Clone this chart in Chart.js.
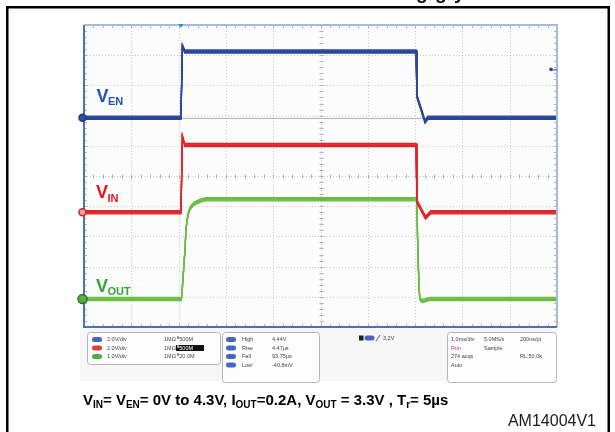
<!DOCTYPE html>
<html><head><meta charset="utf-8">
<script src="https://cdn.jsdelivr.net/npm/chart.js@4/dist/chart.umd.min.js"></script>
<style>html,body{margin:0;padding:0;background:#fff;overflow:hidden}canvas{display:block}</style>
</head><body>
<canvas id="c" width="615" height="432"></canvas>
<script>
// ---------------- DATA (time in ms, values in volts) ----------------
const venTime   = [-2.05, 0, 0.03, 0.08, 4.97, 4.99, 5.16, 5.22, 7.95];
const venVolts  = [0, 0, 4.75, 4.38, 4.38, 1.40, -0.26, 0, 0];
const vinTime   = [-2.05, 0, 0.03, 0.08, 4.97, 4.99, 5.17, 5.28, 7.95];
const vinVolts  = [0, 0, 5.0, 4.46, 4.46, 0.70, -0.36, 0, 0];
const voutTime  = [-2.05, 0.01, 0.04, 0.08, 0.11, 0.16, 0.25, 0.35, 0.54, 4.98, 5.01, 5.05, 5.11, 5.26, 7.95];
const voutVolts = [0, 0, 0.63, 1.52, 2.35, 2.85, 3.11, 3.21, 3.30, 3.30, 1.5, 0.05, -0.07, 0, 0];

const channelSubs   = ['EN', 'IN', 'OUT'];
const voltsPerDiv   = [2.0, 2.0, 1.0];
const scaleLabels   = ['2.0V/div', '2.0V/div', '1.0V/div'];
const bandwidths    = ['500M', '500M', '20.0M'];
const measLabels    = ['High', 'Rise', 'Fall', "Low'"];
const measValues    = ['4.44V', '4.47\u00b5s', '93.75\u00b5s', '-40.8mV'];
const triggerLevel  = 3.2;
const triggerText   = '3.2V';
const acqRows       = [['1.0ms/div', '5.0MS/s', '200ns/pt'], ['Run', 'Sample', ''], ['274 acqs', '', 'RL:50.0k'], ['Auto', '', '']];
const captionParts  = [['V',0],['IN',1],['= V',0],['EN',1],['= 0V to 4.3V, I',0],['OUT',1],['=0.2A, V',0],['OUT',1],[' = 3.3V , T',0],['r',1],['= 5\u00b5s',0]];
const figureId      = 'AM14004V1';

// ---------------- channel display settings ----------------
const groundDiv = [6.93, 3.80, 0.93];        // ground level, divisions from bottom
const traceColors = ['#2b4699', '#e0262b', '#6cbd45'];
const labelColors = ['#2452b8', '#e5141e', '#36a532'];
const pillColors  = ['#4466c4', '#e03c3c', '#4fab4a'];
const bandOffsets = [-1.6, -0.8, 0.8, 1.6];   // vertical thickness of the noisy trace band
const FONT = "'Liberation Sans', Arial, sans-serif";

function pts(t, v) { return t.map((x, i) => ({x: x, y: v[i]})); }
function axisFor(i) {
  return {type: 'linear', display: false, min: -groundDiv[i] * voltsPerDiv[i], max: (10 - groundDiv[i]) * voltsPerDiv[i]};
}

const scopePlugin = {
  id: 'scope',
  beforeDraw(chart) {
    const c = chart.ctx, a = chart.chartArea;
    c.save();
    c.fillStyle = '#ffffff'; c.fillRect(0, 0, 615, 432);
    c.fillStyle = '#f6f6f6'; c.fillRect(a.left - 4, a.bottom + 1, a.right - a.left + 4, 53);
    c.fillStyle = '#fcfcfc'; c.fillRect(a.left, a.top, a.right - a.left, a.bottom - a.top);
    c.strokeStyle = '#000'; c.lineWidth = 2.5;
    c.strokeRect(7.25, 7.25, 601.5, 440);
    c.fillStyle = '#000'; c.font = 'bold 19px ' + FONT; c.textBaseline = 'alphabetic';
    c.fillText('g', 416, -1); c.fillText('g', 435, -1); c.fillText('y', 454, -1);
    c.restore();
  },
  beforeDatasetsDraw(chart) {
    const c = chart.ctx, a = chart.chartArea, xs = chart.scales.x, yd = chart.scales.yDiv;
    c.save();
    c.strokeStyle = 'rgba(140,140,140,0.45)'; c.lineWidth = 1; c.setLineDash([1, 2]);
    for (let k = 1; k < 10; k++) {
      const x = Math.round(xs.getPixelForValue(xs.min + k)) + 0.5;
      c.beginPath(); c.moveTo(x, a.top); c.lineTo(x, a.bottom); c.stroke();
      const y = Math.round(yd.getPixelForValue(k)) + 0.5;
      c.beginPath(); c.moveTo(a.left, y); c.lineTo(a.right, y); c.stroke();
    }
    c.setLineDash([]);
    const g1 = Math.round(chart.scales.yEN.getPixelForValue(0)) + 0.5;
    c.strokeStyle = 'rgba(150,150,160,0.7)';
    c.beginPath(); c.moveTo(a.left, g1); c.lineTo(a.right, g1); c.stroke();
    c.strokeStyle = '#a3b3ca'; c.lineWidth = 1;
    const xc = Math.round(xs.getPixelForValue(xs.min + 5)) + 0.5, ycn = Math.round(yd.getPixelForValue(5)) + 0.5;
    for (let j = 1; j < 50; j++) {
      const x = Math.round(xs.getPixelForValue(xs.min + j * 0.2)) + 0.5;
      c.beginPath();
      c.moveTo(x, a.top); c.lineTo(x, a.top + 3);
      c.moveTo(x, a.bottom); c.lineTo(x, a.bottom - 3);
      c.moveTo(x, ycn - 2); c.lineTo(x, ycn + 2);
      c.stroke();
      const y = Math.round(yd.getPixelForValue(j * 0.2)) + 0.5;
      c.beginPath();
      c.moveTo(a.left, y); c.lineTo(a.left + 3, y);
      c.moveTo(a.right, y); c.lineTo(a.right - 3, y);
      c.moveTo(xc - 2, y); c.lineTo(xc + 2, y);
      c.stroke();
    }
    c.restore();
  },
  afterDatasetDraw(chart, args) {
    // thicken each trace vertically (noise band) while keeping edges thin
    const c = chart.ctx, a = chart.chartArea, el = args.meta.dataset;
    c.save();
    c.beginPath(); c.rect(a.left, a.top, a.right - a.left, a.bottom - a.top); c.clip();
    for (const dy of bandOffsets) {
      c.save(); c.translate(0, dy); el.draw(c, a); c.restore();
    }
    c.restore();
  },
  afterDatasetsDraw(chart) {
    const c = chart.ctx, a = chart.chartArea, xs = chart.scales.x;
    const ys = [chart.scales.yEN, chart.scales.yIN, chart.scales.yOUT];
    c.save();
    c.lineWidth = 2;
    c.strokeStyle = '#a3bcd9';
    c.beginPath(); c.moveTo(a.left, a.top); c.lineTo(a.right, a.top); c.lineTo(a.right, a.bottom); c.stroke();
    c.strokeStyle = '#4f70a8';
    c.beginPath(); c.moveTo(a.left, a.top); c.lineTo(a.left, a.bottom); c.lineTo(a.right, a.bottom); c.stroke();
    const tx = xs.getPixelForValue(0);
    c.fillStyle = '#1f9aa8';
    c.beginPath(); c.moveTo(tx - 2.5, a.top - 1); c.lineTo(tx + 2.5, a.top - 1); c.lineTo(tx, a.top + 3); c.closePath(); c.fill();
    const ty = ys[0].getPixelForValue(triggerLevel);
    c.fillStyle = traceColors[0]; c.strokeStyle = traceColors[0]; c.lineWidth = 1;
    c.beginPath(); c.arc(a.right - 6, ty, 1.8, 0, Math.PI * 2); c.fill();
    c.beginPath(); c.moveTo(a.right - 5, ty + 0.5); c.lineTo(a.right, ty + 0.5); c.stroke();
    const mr = [3.5, 3.5, 4.5];
    const mf = ['#2f4fa6', '#f3a3a3', '#57b043'];
    const ms = ['#1d3784', '#d42222', '#2f6d2a'];
    for (let i = 0; i < 3; i++) {
      const y = ys[i].getPixelForValue(0);
      c.beginPath(); c.arc(a.left - 1.5, y, mr[i], 0, Math.PI * 2);
      c.fillStyle = mf[i]; c.fill(); c.lineWidth = 1.5; c.strokeStyle = ms[i]; c.stroke();
    }
    const lab = [[96.5, ys[0].getPixelForValue(0) - 16], [96, ys[1].getPixelForValue(0) - 14], [96, ys[2].getPixelForValue(0) - 7]];
    c.textBaseline = 'alphabetic';
    for (let i = 0; i < 3; i++) {
      c.fillStyle = labelColors[i];
      c.font = 'bold 18px ' + FONT;
      c.fillText('V', lab[i][0], lab[i][1]);
      const w = c.measureText('V').width;
      c.font = 'bold 11px ' + FONT;
      c.fillText(channelSubs[i], lab[i][0] + w - 0.5, lab[i][1] + 3.5);
    }
    function box(x, y, w, h) {
      c.beginPath(); c.roundRect(x + 0.5, y + 0.5, w, h, 3);
      c.fillStyle = '#fdfdfd'; c.fill(); c.strokeStyle = '#b5b5b5'; c.lineWidth = 1; c.stroke();
    }
    function pill(x, y, col) {
      c.beginPath(); c.roundRect(x, y - 2.5, 10, 5, 2.5); c.fillStyle = col; c.fill();
    }
    const rowY = [339.5, 348, 356.5, 365];
    c.font = '5.5px ' + FONT; c.textBaseline = 'middle';
    box(87, 332, 133, 32);
    for (let i = 0; i < 3; i++) {
      pill(92, rowY[i], pillColors[i]);
      c.fillStyle = '#444'; c.fillText(scaleLabels[i], 107, rowY[i]);
      c.fillText('1M\u03a9', 164, rowY[i]);
      if (i === 1) {
        c.fillStyle = '#111'; c.fillRect(176, rowY[i] - 3, 28, 6);
        c.fillStyle = '#fff';
      }
      c.fillText('\u1d2e' + bandwidths[i], 177, rowY[i]);
    }
    box(222, 332, 97, 50);
    for (let i = 0; i < 4; i++) {
      pill(226, rowY[i], pillColors[0]);
      c.fillStyle = '#444';
      c.fillText(measLabels[i], 242, rowY[i]);
      c.fillText(measValues[i], 272, rowY[i]);
    }
    c.fillStyle = '#222'; c.fillRect(359, 335.5, 4.5, 5);
    pill(364.5, 338, pillColors[0]);
    c.strokeStyle = '#333'; c.lineWidth = 0.8;
    c.beginPath(); c.moveTo(376, 341); c.lineTo(380, 335); c.stroke();
    c.fillStyle = '#444'; c.fillText(triggerText, 383, 338);
    box(447, 332, 109, 50);
    const acqX = [451, 484, 520];
    for (let r = 0; r < acqRows.length; r++) {
      for (let k = 0; k < 3; k++) {
        if (!acqRows[r][k]) continue;
        c.fillStyle = (r === 1 && k === 0) ? '#d0307a' : '#444';
        c.fillText(acqRows[r][k], acqX[k], rowY[r]);
      }
    }
    c.textBaseline = 'alphabetic'; c.fillStyle = '#000';
    let cx = 83;
    for (const p of captionParts) {
      c.font = p[1] ? 'bold 10px ' + FONT : 'bold 15px ' + FONT;
      c.fillText(p[0], cx, p[1] ? 408 : 405);
      cx += c.measureText(p[0]).width;
    }
    c.font = '16px ' + FONT; c.fillStyle = '#1a1a1a'; c.textAlign = 'right';
    c.fillText(figureId, 596, 426);
    c.restore();
  }
};

new Chart(document.getElementById('c'), {
  type: 'line',
  data: {
    datasets: [
      {label: 'V_EN',  data: pts(venTime, venVolts),   yAxisID: 'yEN',  borderColor: traceColors[0], borderWidth: 1.3, pointRadius: 0, tension: 0},
      {label: 'V_IN',  data: pts(vinTime, vinVolts),   yAxisID: 'yIN',  borderColor: traceColors[1], borderWidth: 1.3, pointRadius: 0, tension: 0},
      {label: 'V_OUT', data: pts(voutTime, voutVolts), yAxisID: 'yOUT', borderColor: traceColors[2], borderWidth: 1.3, pointRadius: 0, cubicInterpolationMode: 'monotone'}
    ]
  },
  options: {
    responsive: false, animation: false, devicePixelRatio: 1,
    layout: {padding: {left: 84, right: 58, top: 25, bottom: 105}},
    plugins: {legend: {display: false}, tooltip: {enabled: false}},
    scales: {
      x: {type: 'linear', display: false, min: venTime[0], max: venTime[venTime.length - 1]},
      yDiv: {type: 'linear', display: false, min: 0, max: 10},
      yEN: axisFor(0), yIN: axisFor(1), yOUT: axisFor(2)
    }
  },
  plugins: [scopePlugin]
});
</script>
</body></html>
